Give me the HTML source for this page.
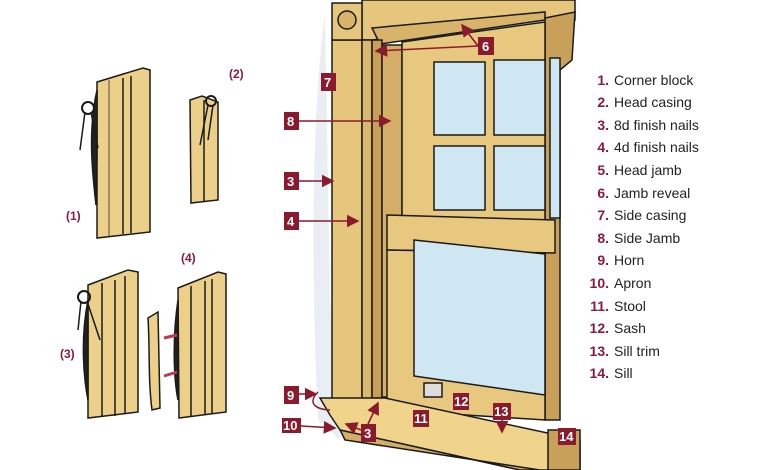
<!DOCTYPE html>
<html><head><meta charset="utf-8"><style>
html,body{margin:0;padding:0;background:#fff;width:780px;height:470px;overflow:hidden}
svg{display:block}
.lb{font-family:"Liberation Sans",sans-serif;font-weight:bold;font-size:13px;fill:#fff}
.lst{font-family:"Liberation Sans",sans-serif;font-size:14px;fill:#222}
.num{font-family:"Liberation Sans",sans-serif;font-size:14px;font-weight:bold;fill:#8b1a3a}
.pl{font-family:"Liberation Sans",sans-serif;font-size:12px;font-weight:bold;fill:#8b1a3a}
</style></head><body>
<svg width="780" height="470" viewBox="0 0 780 470" xmlns="http://www.w3.org/2000/svg">
<defs>
<marker id="ar" markerWidth="8" markerHeight="8" refX="7" refY="4" orient="auto"><path d="M0,0 L8,4 L0,8 z" fill="#8b1a2e"/></marker>
</defs>
<g stroke="#1a1a1a" stroke-width="1.5">
<!-- (1) board -->
<path d="M97,82 L143,68 L150,70 L150,232 L97,238 Z" fill="#ecd08a"/>
<line x1="123" y1="78" x2="123" y2="234"/><line x1="131" y1="76" x2="131" y2="233"/><line x1="109" y1="80" x2="109" y2="236" stroke-width="0.7"/>
<path d="M97,90 C88,130 92,170 96,205 L97,150 Z" fill="#222"/>
<circle cx="88" cy="108" r="6" fill="none" stroke-width="2"/><line x1="85" y1="112" x2="80" y2="150"/><line x1="91" y1="112" x2="98" y2="148"/>
<!-- (2) -->
<path d="M190,100 L202,96 L218,102 L218,200 L191,203 Z" fill="#ecd08a"/>
<line x1="204" y1="100" x2="204" y2="201"/>
<circle cx="211" cy="101" r="5" fill="none" stroke-width="2"/><line x1="208" y1="105" x2="200" y2="145"/><line x1="213" y1="105" x2="208" y2="140"/>
<!-- (3) -->
<path d="M88,285 L128,270 L138,272 L138,412 L88,418 Z" fill="#ecd08a"/>
<line x1="102" y1="283" x2="102" y2="417"/><line x1="115" y1="280" x2="115" y2="416"/><line x1="125" y1="276" x2="125" y2="414"/>
<path d="M88,300 C80,340 84,380 88,400 Z" fill="#222"/>
<circle cx="84" cy="297" r="6" fill="none" stroke-width="2"/><line x1="81" y1="301" x2="78" y2="330"/><line x1="87" y1="301" x2="100" y2="340"/>
<!-- (4) -->
<path d="M148,318 L158,312 L160,408 L152,410 C148,380 150,350 148,318 Z" fill="#ecd08a"/>
<path d="M178,288 L218,272 L226,274 L226,412 L179,418 Z" fill="#ecd08a"/>
<line x1="191" y1="286" x2="191" y2="417"/><line x1="205" y1="281" x2="205" y2="415"/><line x1="212" y1="279" x2="212" y2="414"/>
<path d="M178,300 C172,340 174,380 178,400 Z" fill="#222"/>
</g>
<path d="M164,338 L177,335 M164,376 L177,372" stroke="#c0394f" stroke-width="3"/>
<text class="pl" x="66" y="220">(1)</text><text class="pl" x="229" y="78">(2)</text>
<text class="pl" x="60" y="358">(3)</text><text class="pl" x="181" y="262">(4)</text>

<!-- window -->
<path d="M325,15 C310,120 312,300 318,420 L340,440 L330,300 Z" fill="#e9eef4"/>
<g stroke="#1a1a1a" stroke-width="1.5">
<!-- head casing -->
<path d="M362,0 L575,0 L575,20 L545,18 L372,40 L362,40 Z" fill="#e6c57c"/>
<path d="M372,28 L545,12 L545,20 L380,44 Z" fill="#d8b46a"/>
<!-- right edge wood -->
<path d="M545,18 L575,12 L572,60 L560,70 L560,420 L545,420 Z" fill="#c9a05a"/>
<!-- side casing -->
<rect x="332" y="40" width="30" height="362" fill="#e6c57c"/>
<rect x="362" y="40" width="10" height="360" fill="#dab872"/>
<rect x="372" y="40" width="10" height="358" fill="#c79f58"/>
<rect x="382" y="45" width="20" height="352" fill="#d4ae66"/>
<rect x="332" y="3" width="30" height="37" fill="#e6c57c"/>
<circle cx="347" cy="20" r="9" fill="#d9b36a"/>
<!-- upper sash -->
<path d="M402,42 L545,22 L545,220 L402,218 Z" fill="#e8c87e"/>
<rect x="434" y="62" width="51" height="73" fill="#cfe6f3"/>
<rect x="494" y="60" width="51" height="75" fill="#cfe6f3"/>
<rect x="434" y="146" width="51" height="64" fill="#cfe6f3"/>
<rect x="494" y="146" width="51" height="64" fill="#cfe6f3"/>
<rect x="550" y="58" width="10" height="160" fill="#cfe6f3"/>
<!-- meeting rail -->
<path d="M387,215 L555,220 L555,253 L387,250 Z" fill="#e8c87e"/>
<!-- lower sash -->
<path d="M387,250 L545,253 L545,420 L387,410 Z" fill="#e8c87e"/>
<path d="M414,240 L545,254 L545,395 L414,376 Z" fill="#cfe6f3"/>
<rect x="424" y="383" width="18" height="14" fill="#ddd"/>
<!-- stool -->
<path d="M320,398 L385,398 L580,440 L580,470 L520,470 L340,430 L330,415 Z" fill="#f0d48c"/>
<path d="M340,430 L520,470 L540,470 L345,440 Z" fill="#d4ae66"/>
<path d="M548,430 L580,430 L580,470 L548,470 Z" fill="#c9a05a"/>
</g>
<!-- label boxes -->
<g fill="#8b1a2e">
<rect x="321" y="73" width="15" height="18"/><rect x="284" y="112" width="15" height="18"/>
<rect x="284" y="172" width="15" height="18"/><rect x="284" y="212" width="15" height="18"/>
<rect x="284" y="386" width="15" height="18"/><rect x="282" y="418" width="19" height="15"/>
<rect x="478" y="37" width="16" height="18"/><rect x="361" y="424" width="15" height="18"/>
<rect x="413" y="410" width="16" height="17"/><rect x="453" y="393" width="16" height="17"/>
<rect x="493" y="403" width="18" height="17"/><rect x="558" y="428" width="18" height="17"/>
</g>
<g class="lb">
<text x="324" y="87">7</text><text x="287" y="126">8</text><text x="287" y="186">3</text><text x="287" y="226">4</text>
<text x="287" y="400">9</text><text x="283" y="430">10</text><text x="482" y="51">6</text><text x="364" y="438">3</text>
<text x="414" y="423">11</text><text x="454" y="406">12</text><text x="494" y="416">13</text><text x="559" y="441">14</text>
</g>
<g stroke="#8b1a2e" stroke-width="1.6" fill="none" marker-end="url(#ar)">
<line x1="299" y1="121" x2="390" y2="121"/><line x1="299" y1="181" x2="333" y2="181"/>
<line x1="299" y1="221" x2="358" y2="221"/><line x1="299" y1="394" x2="316" y2="394"/>
<line x1="301" y1="426" x2="335" y2="428"/><line x1="478" y1="46" x2="376" y2="51"/>
<line x1="478" y1="46" x2="462" y2="25"/><line x1="368" y1="424" x2="378" y2="403"/>
<line x1="361" y1="430" x2="346" y2="424"/><line x1="502" y1="420" x2="502" y2="432"/>
</g>
<path d="M318,392 C305,405 320,410 330,410" stroke="#8b1a2e" stroke-width="1.5" fill="none"/>
<!-- list -->
<g text-anchor="end" class="num">
<text x="609" y="85">1.</text><text x="609" y="107">2.</text><text x="609" y="130">3.</text><text x="609" y="152">4.</text><text x="609" y="175">5.</text><text x="609" y="198">6.</text><text x="609" y="220">7.</text><text x="609" y="243">8.</text><text x="609" y="265">9.</text><text x="609" y="288">10.</text><text x="609" y="311">11.</text><text x="609" y="333">12.</text><text x="609" y="356">13.</text><text x="609" y="378">14.</text>
</g>
<g class="lst">
<text x="614" y="85">Corner block</text><text x="614" y="107">Head casing</text><text x="614" y="130">8d finish nails</text><text x="614" y="152">4d finish nails</text><text x="614" y="175">Head jamb</text><text x="614" y="198">Jamb reveal</text><text x="614" y="220">Side casing</text><text x="614" y="243">Side Jamb</text><text x="614" y="265">Horn</text><text x="614" y="288">Apron</text><text x="614" y="311">Stool</text><text x="614" y="333">Sash</text><text x="614" y="356">Sill trim</text><text x="614" y="378">Sill</text>
</g>
</svg>
</body></html>
